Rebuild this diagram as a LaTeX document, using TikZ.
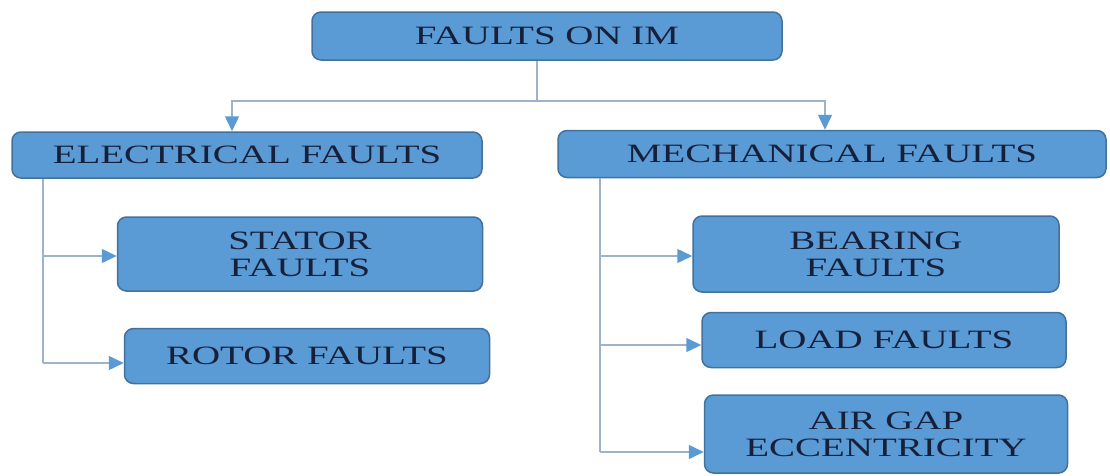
\documentclass[tikz,border=0pt]{standalone}
\usepackage{fontspec}
\setmainfont{Liberation Serif}[FakeStretch=1.47]
\usetikzlibrary{arrows.meta}
\definecolor{boxblue}{HTML}{5B9BD5}
\definecolor{boxedge}{HTML}{41719C}
\definecolor{linkgray}{HTML}{9DB2CB}
\definecolor{textnavy}{HTML}{17203A}

\tikzset{
  fault/.style={draw=boxedge, fill=boxblue, line width=1.5pt, rounded corners=9pt,
    text=textnavy, align=center, inner sep=0pt, font=\fontsize{26.5}{27}\selectfont},
  link/.style={draw=linkgray, line width=1.5pt},
  arrow/.style={link, -{Triangle[length=15pt,width=14pt,color=boxblue]}},
}

\begin{document}
\begin{tikzpicture}[x=1pt,y=-1pt]
\useasboundingbox (0,0) rectangle (1110,475);

% boxes
\node[fault, minimum width=470pt, minimum height=48pt] (im) at (547,36) {FAULTS ON IM};
\node[fault, minimum width=470pt, minimum height=46pt] (elec) at (247,155) {ELECTRICAL FAULTS};
\node[fault, minimum width=548pt, minimum height=47pt] (mech) at (832,154) {MECHANICAL FAULTS};

\node[fault, minimum width=365pt, minimum height=74pt] (stator) at (300,254) {STATOR\\FAULTS};
\node[fault, minimum width=365pt, minimum height=55pt] (rotor) at (307,356) {ROTOR FAULTS};

\node[fault, minimum width=366pt, minimum height=76pt] (bearing) at (876,254) {BEARING\\FAULTS};
\node[fault, minimum width=364pt, minimum height=55pt] (load) at (884,340) {LOAD FAULTS};
\node[fault, minimum width=363pt, minimum height=78pt] (airgap) at (886,434) {AIR GAP\\ECCENTRICITY};

% top split
\coordinate (split) at (537,101);
\coordinate (eDrop) at (232,101);
\coordinate (mDrop) at (825,101);
\draw[link] (split |- im.south) -- (split);
\draw[arrow] (split) -- (eDrop) -- (eDrop |- elec.north);
\draw[arrow] (split) -- (mDrop) -- (mDrop |- mech.north);

% electrical branch
\coordinate (eBus) at (43,363);
\draw[link] (eBus |- elec.south) -- (eBus);
\draw[arrow] (eBus |- 0,256) -- (stator.west |- 0,256);
\draw[arrow] (eBus) -- (rotor.west |- eBus);

% mechanical branch
\coordinate (mBus) at (600,452);
\draw[link] (mBus |- mech.south) -- (mBus);
\draw[arrow] (mBus |- 0,256) -- (bearing.west |- 0,256);
\draw[arrow] (mBus |- 0,345) -- (load.west |- 0,345);
\draw[arrow] (mBus) -- (airgap.west |- mBus);
\end{tikzpicture}
\end{document}
